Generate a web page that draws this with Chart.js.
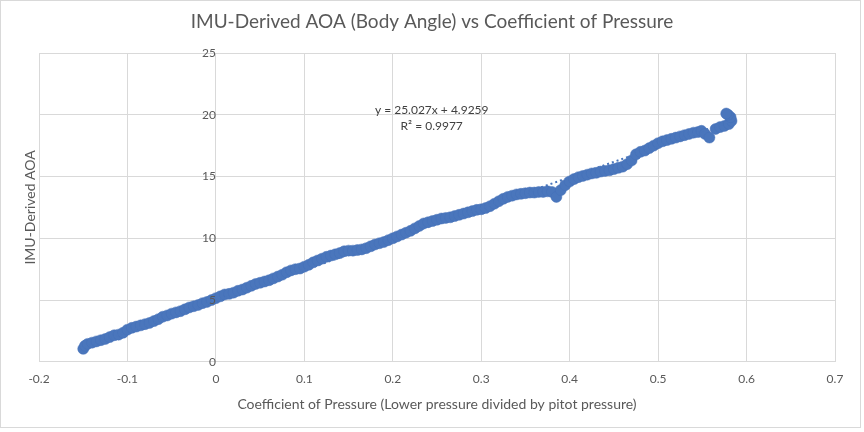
<!DOCTYPE html>
<html>
<head>
<meta charset="utf-8">
<script src="https://cdn.jsdelivr.net/npm/chart.js@4.4.0/dist/chart.umd.min.js"></script>
<style>
  html, body { margin: 0; padding: 0; background: #fff; }
  #wrap { width: 864px; height: 432px; position: relative; }
</style>
</head>
<body>
<div id="wrap"><canvas id="aoa-canvas" width="864" height="432"></canvas></div>
<script>
// values
const cpValues = [
  -0.150, -0.148, -0.145, -0.140, -0.135, -0.130, -0.125, -0.120, -0.115, -0.110,
  -0.105, -0.100, -0.095, -0.090, -0.085, -0.080, -0.075, -0.070, -0.065, -0.060,
  -0.055, -0.050, -0.045, -0.040, -0.035, -0.030, -0.025, -0.020, -0.015, -0.010,
  -0.005, 0.000, 0.005, 0.010, 0.015, 0.020, 0.025, 0.030, 0.035, 0.040,
  0.045, 0.050, 0.055, 0.060, 0.065, 0.070, 0.075, 0.080, 0.085, 0.090,
  0.095, 0.100, 0.105, 0.110, 0.115, 0.120, 0.125, 0.130, 0.135, 0.140,
  0.145, 0.150, 0.155, 0.160, 0.165, 0.170, 0.175, 0.180, 0.185, 0.190,
  0.195, 0.200, 0.205, 0.210, 0.215, 0.220, 0.225, 0.230, 0.235, 0.240,
  0.245, 0.250, 0.255, 0.260, 0.265, 0.270, 0.275, 0.280, 0.285, 0.290,
  0.295, 0.300, 0.305, 0.310, 0.315, 0.320, 0.325, 0.330, 0.335, 0.340,
  0.345, 0.350, 0.355, 0.360, 0.365, 0.370, 0.375, 0.380, 0.385, 0.390,
  0.395, 0.400, 0.405, 0.410, 0.415, 0.420, 0.425, 0.430, 0.435, 0.440,
  0.445, 0.450, 0.455, 0.460, 0.465, 0.470, 0.475, 0.480, 0.485, 0.490,
  0.495, 0.500, 0.505, 0.510, 0.515, 0.520, 0.525, 0.530, 0.535, 0.540,
  0.545, 0.549, 0.553, 0.558,
  0.565, 0.570, 0.575, 0.580, 0.583, 0.582, 0.579, 0.577
];
const aoaValues = [
  1.05, 1.30, 1.45, 1.55, 1.65, 1.75, 1.85, 2.00, 2.15, 2.20,
  2.35, 2.60, 2.75, 2.85, 2.95, 3.05, 3.15, 3.30, 3.45, 3.65,
  3.75, 3.90, 4.00, 4.10, 4.25, 4.40, 4.50, 4.60, 4.75, 4.85,
  5.00, 5.15, 5.30, 5.45, 5.50, 5.60, 5.75, 5.85, 6.00, 6.15,
  6.30, 6.40, 6.50, 6.60, 6.75, 6.90, 7.05, 7.25, 7.40, 7.50,
  7.55, 7.70, 7.85, 8.05, 8.20, 8.35, 8.50, 8.60, 8.70, 8.80,
  8.95, 9.00, 9.00, 9.05, 9.10, 9.20, 9.35, 9.50, 9.60, 9.70,
  9.85, 10.00, 10.15, 10.30, 10.45, 10.60, 10.80, 11.00, 11.20, 11.30,
  11.40, 11.50, 11.60, 11.65, 11.70, 11.80, 11.90, 12.00, 12.10, 12.20,
  12.30, 12.35, 12.45, 12.60, 12.80, 13.00, 13.20, 13.35, 13.45, 13.55,
  13.60, 13.65, 13.70, 13.70, 13.75, 13.75, 13.80, 13.75, 13.35, 13.90,
  14.30, 14.60, 14.80, 14.95, 15.05, 15.15, 15.25, 15.30, 15.40, 15.45,
  15.50, 15.60, 15.70, 15.80, 16.00, 16.30, 16.80, 17.00, 17.10, 17.30,
  17.50, 17.70, 17.85, 17.95, 18.05, 18.15, 18.25, 18.35, 18.45, 18.55,
  18.60, 18.70, 18.45, 18.15,
  18.85, 19.00, 19.10, 19.25, 19.50, 19.80, 20.00, 20.10
];
// linear trendline from the picture
const trendSlope = 25.027;
const trendIntercept = 4.9259;
const trendR2 = 0.9977;
const xTicks = [-0.2, -0.1, 0, 0.1, 0.2, 0.3, 0.4, 0.5, 0.6, 0.7];
const chartTitle = 'IMU-Derived AOA (Body Angle) vs Coefficient of Pressure';

const blue = '#4A76BC';
const textGrey = '#595959';
const gridGrey = '#d9d9d9';

const points = cpValues.map((x, i) => ({ x: x, y: aoaValues[i] }));
const xMinData = Math.min(...cpValues);
const xMaxData = Math.max(...cpValues);
const trendPoints = [
  { x: xMinData, y: trendSlope * xMinData + trendIntercept },
  { x: xMaxData, y: trendSlope * xMaxData + trendIntercept },
];

// title, equation label + outer border
const extras = {
  id: 'extras',
  beforeDraw(chart) {
    const c = chart.ctx;
    c.save();
    c.fillStyle = '#fff';
    c.fillRect(0, 0, chart.width, chart.height);
    c.fillStyle = textGrey;
    c.font = '19px Lato';
    c.textAlign = 'center';
    c.textBaseline = 'middle';
    c.fillText(chartTitle, 432, 22);
    c.restore();
  },
  afterDraw(chart) {
    const c = chart.ctx;
    const xs = chart.scales.x, ys = chart.scales.y;
    c.save();
    c.fillStyle = '#404040';
    c.font = '12px Lato';
    c.textAlign = 'center';
    c.textBaseline = 'middle';
    const px = xs.getPixelForValue(0.244);
    c.fillText('y = ' + trendSlope + 'x + ' + trendIntercept, px, ys.getPixelForValue(20.37));
    c.fillText('R² = ' + trendR2, px, ys.getPixelForValue(19.07));
    c.strokeStyle = gridGrey;
    c.lineWidth = 1;
    c.strokeRect(0.5, 0.5, 860, 427);
    c.restore();
  }
};

const tickFont = { family: 'Lato', size: 12 };

const ctx = document.getElementById('aoa-canvas').getContext('2d');
const aoaChart = new Chart(ctx, {
  type: 'scatter',
  data: {
    datasets: [
      {
        label: 'AOA',
        data: points,
        backgroundColor: blue,
        borderColor: '#4470B8',
        pointRadius: 5.5,
        pointBorderWidth: 0.5,
        showLine: false,
        order: 2,
      },
      {
        label: 'Linear (AOA)',
        data: trendPoints,
        showLine: true,
        borderColor: blue,
        borderWidth: 2,
        borderDash: [2, 3],
        pointRadius: 0,
        order: 1,
      },
    ],
  },
  options: {
    responsive: false,
    animation: false,
    layout: { padding: { left: 14, right: 29, top: 53, bottom: 19 } },
    scales: {
      x: {
        type: 'linear',
        min: -0.2,
        max: 0.7,
        afterBuildTicks: (axis) => { axis.ticks = xTicks.map(v => ({ value: v })) },
        grid: { color: gridGrey, drawTicks: false },
        border: { color: gridGrey },
        ticks: { color: textGrey, font: tickFont, padding: 10 },
        title: {
          display: true,
          text: 'Coefficient of Pressure (Lower pressure divided by pitot pressure)',
          color: textGrey,
          font: { family: 'Lato', size: 14 },
          padding: { top: 0, bottom: 0 },
        },
      },
      // grid + axis line at x = 0, below the markers
      y: {
        type: 'linear',
        position: { x: 0 },
        min: 0,
        max: 25,
        ticks: { stepSize: 5, display: false },
        grid: { color: gridGrey, drawTicks: false },
        border: { color: gridGrey },
      },
      // tick labels drawn above the markers, like the spreadsheet does
      yLabels: {
        type: 'linear',
        position: { x: 0 },
        min: 0,
        max: 25,
        ticks: { stepSize: 5, color: textGrey, font: tickFont, padding: 4, z: 1 },
        grid: { display: false },
        border: { display: false },
      },
      yTitle: {
        type: 'linear',
        position: 'left',
        min: 0,
        max: 25,
        grid: { display: false },
        border: { display: false },
        ticks: { display: false },
        afterFit: (axis) => { axis.width = 25 },
        title: {
          display: true,
          text: 'IMU-Derived AOA',
          color: textGrey,
          font: { family: 'Lato', size: 14 },
          padding: { top: 8, bottom: 0 },
        },
      },
    },
    plugins: {
      legend: { display: false },
      tooltip: { enabled: false },
      title: { display: false },
    },
  },
  plugins: [extras],
});
</script>
</body>
</html>
